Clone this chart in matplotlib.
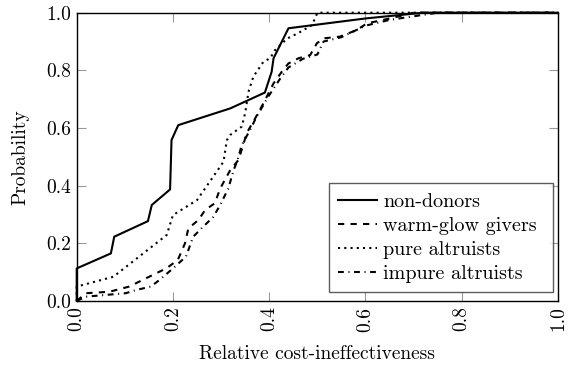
import numpy as np
import matplotlib.pyplot as plt

plt.rcParams['font.family'] = 'serif'
plt.rcParams['font.serif'] = ['cmr10', 'DejaVu Serif']
plt.rcParams['mathtext.fontset'] = 'cm'
plt.rcParams['axes.formatter.use_mathtext'] = True

# empirical distributions per donor group
x_nd = [0, 0, 0.071, 0.078, 0.148, 0.156, 0.194, 0.197, 0.211, 0.319, 0.391, 0.405,
        0.409, 0.44, 0.6, 0.72, 1.0]
y_nd = [0, 0.113, 0.165, 0.223, 0.277, 0.333, 0.387, 0.558, 0.61, 0.668, 0.723, 0.795,
        0.842, 0.946, 0.98, 1.0, 1.0]

x_wg = [0, 0.019, 0.068, 0.109, 0.137, 0.165, 0.186, 0.21, 0.225, 0.232, 0.253, 0.267,
        0.287, 0.298, 0.319, 0.336, 0.346, 0.353, 0.367, 0.388, 0.409, 0.426, 0.44,
        0.461, 0.485, 0.499, 0.513, 0.547, 0.582, 0.603, 0.651, 0.7, 1.0]
y_wg = [0, 0.027, 0.032, 0.05, 0.073, 0.096, 0.113, 0.142, 0.2, 0.252, 0.281, 0.316,
        0.339, 0.39, 0.454, 0.489, 0.541, 0.582, 0.622, 0.686, 0.755, 0.795, 0.824,
        0.842, 0.853, 0.894, 0.911, 0.917, 0.94, 0.963, 0.98, 1.0, 1.0]

x_pa = [0, 0, 0.076, 0.152, 0.187, 0.2, 0.25, 0.305, 0.312, 0.319, 0.343, 0.35, 0.357,
        0.367, 0.388, 0.402, 0.412, 0.437, 0.461, 0.489, 0.495, 0.5, 1.0]
y_pa = [0, 0.05, 0.084, 0.183, 0.229, 0.298, 0.35, 0.483, 0.558, 0.576, 0.605, 0.652,
        0.726, 0.778, 0.83, 0.842, 0.87, 0.91, 0.93, 0.957, 0.98, 1.0, 1.0]

x_ia = [0, 0.019, 0.102, 0.123, 0.154, 0.172, 0.2, 0.227, 0.242, 0.263, 0.284, 0.298,
        0.315, 0.326, 0.333, 0.343, 0.36, 0.374, 0.398, 0.423, 0.44, 0.47, 0.5, 0.513,
        0.55, 0.6, 0.65, 0.75, 1.0]
y_ia = [0, 0.015, 0.027, 0.038, 0.05, 0.073, 0.113, 0.154, 0.223, 0.258, 0.292, 0.333,
        0.39, 0.454, 0.483, 0.541, 0.593, 0.64, 0.709, 0.772, 0.81, 0.84, 0.855, 0.9,
        0.915, 0.955, 0.975, 1.0, 1.0]

fig = plt.figure(figsize=(5.69, 3.70), dpi=100)
ax = fig.add_axes([0.1348, 0.1865, 0.8459, 0.7792])

lw = 1.5
ax.plot(x_nd, y_nd, color='black', lw=lw, label='non-donors', clip_on=False)
ax.plot(x_wg, y_wg, color='black', lw=lw, dashes=(3, 3), label='warm-glow givers', clip_on=False)
ax.plot(x_pa, y_pa, color='black', lw=lw, dashes=(1, 2), label='pure altruists', clip_on=False)
ax.plot(x_ia, y_ia, color='black', lw=lw, dashes=(2.8, 2.2, 0.5, 2.2), label='impure altruists', clip_on=False)

ax.set_xlim(0, 1)
ax.set_ylim(0, 1)
ticks = np.arange(0, 1.01, 0.2)
ax.set_xticks(ticks)
ax.set_yticks(ticks)
ax.set_xticklabels(['%.1f' % t for t in ticks], rotation=90)
ax.set_yticklabels(['%.1f' % t for t in ticks])
ax.tick_params(direction='in', length=6.5, width=0.8, color='#999999',
               top=True, right=True, labelsize=14, pad=4)
for s in ax.spines.values():
    s.set_linewidth(1.0)

ax.set_xlabel('Relative cost-ineffectiveness', fontsize=14, labelpad=10)
ax.set_ylabel('Probability', fontsize=14, labelpad=12)

# legend box stretched to a fixed width in the lower right
leg = ax.legend(loc='lower left', bbox_to_anchor=(0.524, 0.031, 0.465, 0.3),
                mode='expand', fontsize=14.5, frameon=True, fancybox=False,
                edgecolor='#333333', handlelength=1.95, handletextpad=0.3,
                labelspacing=0.3, borderaxespad=0.0, borderpad=0.45)
leg.get_frame().set_linewidth(1.0)

fig.savefig('out.png', dpi=100)
